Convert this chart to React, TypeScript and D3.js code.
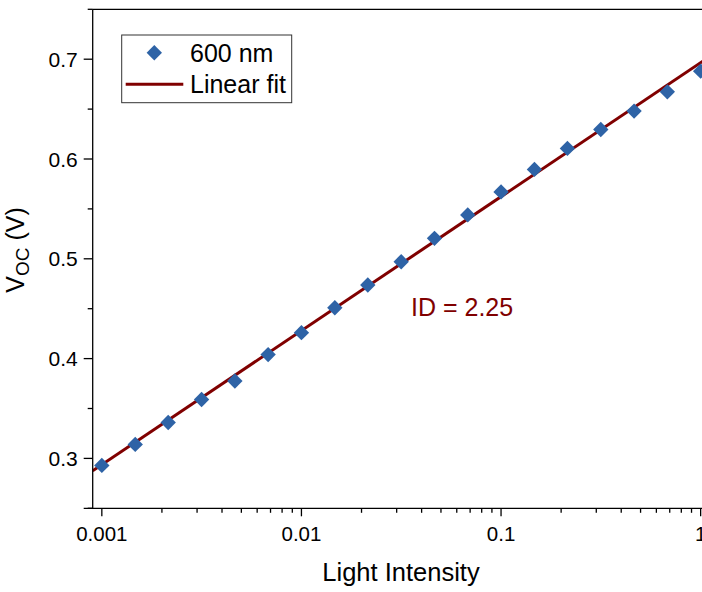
import * as d3 from "d3";
import React from "react";

// light intensity (suns) and measured Voc (V) at 600 nm
const intensity = [
  0.001, 0.00147, 0.00215, 0.00316, 0.00464, 0.00681, 0.01, 0.0147, 0.0215,
  0.0316, 0.0464, 0.0681, 0.1, 0.147, 0.215, 0.316, 0.464, 0.681, 1,
];
const voc = [
  0.293, 0.314, 0.336, 0.359, 0.3775, 0.404, 0.426, 0.451, 0.4737, 0.497,
  0.5205, 0.544, 0.567, 0.5896, 0.6106, 0.6296, 0.648, 0.6673, 0.688,
];

// linear fit (V vs log I) end points
const fitX = [0.0009, 1.11];
const fitY = [0.2876, 0.7026];

const xMajor = [0.001, 0.01, 0.1, 1];
const xMajorLabels = ["0.001", "0.01", "0.1", "1"];
const yMajor = [0.3, 0.4, 0.5, 0.6, 0.7];
const yMinor = [0.25, 0.35, 0.45, 0.55, 0.65, 0.75];

const legendLabels = ["600 nm", "Linear fit"];
const annotation = "ID = 2.25";

const App = () => {
  const width = 702;
  const height = 592;
  const margins = { top: 9.3, right: -7.7, bottom: 83.7, left: 92.7 };
  const innerWidth = width - margins.left - margins.right;
  const innerHeight = height - margins.top - margins.bottom;

  const blue = "#2e63a6";
  const wine = "#800000";
  const font = "Arial, 'Liberation Sans', sans-serif";

  const xScale = d3.scaleLog().domain([0.0009, 1.11]).range([0, innerWidth]);
  const yScale = d3.scaleLinear().domain([0.25, 0.75]).range([innerHeight, 0]);

  // minor x ticks 2..9 per decade
  const xMinor: number[] = [];
  [0.001, 0.01, 0.1].forEach((dec) => {
    for (let k = 2; k <= 9; k++) xMinor.push(dec * k);
  });

  const diamond = d3.symbol(d3.symbolSquare, 118)();
  const fitLine = d3
    .line<number>()
    .x((d) => xScale(d))
    .y((_, i) => yScale(fitY[i]));

  return (
    <svg
      width={width}
      height={height}
      style={{ position: "absolute", left: 0, top: 0, background: "#fff" }}
      fontFamily={font}
    >
      <defs>
        <clipPath id="plot">
          <rect x={0} y={0} width={innerWidth} height={innerHeight} />
        </clipPath>
      </defs>
      <g transform={`translate(${margins.left},${margins.top})`}>
        {/* fit line */}
        <path
          d={fitLine(fitX) || ""}
          stroke={wine}
          strokeWidth={3}
          fill="none"
          clipPath="url(#plot)"
        />
        {/* data */}
        {intensity.map((x, i) => (
          <path
            key={x}
            d={diamond || ""}
            transform={`translate(${xScale(x)},${yScale(voc[i])}) rotate(45)`}
            fill={blue}
          />
        ))}

        {/* frame */}
        <line x1={0} x2={innerWidth} y1={0} y2={0} stroke="#000" strokeWidth={1.3} />
        <line x1={0} x2={0} y1={0} y2={innerHeight} stroke="#000" strokeWidth={1.3} />
        <line x1={-9} x2={innerWidth} y1={innerHeight} y2={innerHeight} stroke="#000" strokeWidth={1.3} />

        {/* y ticks */}
        {yMajor.map((v) => (
          <g key={v} transform={`translate(0,${yScale(v)})`}>
            <line x1={-9} x2={0} stroke="#000" strokeWidth={1.3} />
            <text x={-15} dy="0.36em" textAnchor="end" fontSize={21}>
              {v.toFixed(1)}
            </text>
          </g>
        ))}
        {yMinor.map((v) => (
          <line
            key={v}
            x1={-5}
            x2={0}
            y1={yScale(v)}
            y2={yScale(v)}
            stroke="#000"
            strokeWidth={1.3}
          />
        ))}

        {/* x ticks */}
        {xMajor.map((v, i) => (
          <g key={v} transform={`translate(${xScale(v)},${innerHeight})`}>
            <line y1={0} y2={8} stroke="#000" strokeWidth={1.3} />
            <text y={32.5} textAnchor="middle" fontSize={20.5}>
              {xMajorLabels[i]}
            </text>
          </g>
        ))}
        {xMinor.map((v) => (
          <line
            key={v}
            x1={xScale(v)}
            x2={xScale(v)}
            y1={innerHeight}
            y2={innerHeight + 4.5}
            stroke="#000"
            strokeWidth={1.3}
          />
        ))}

        {/* axis titles */}
        <text
          x={401 - margins.left}
          y={innerHeight + 73}
          textAnchor="middle"
          fontSize={25.5}
        >
          Light Intensity
        </text>
        <text
          transform={`translate(${24 - margins.left},${250 - margins.top}) rotate(-90)`}
          textAnchor="middle"
          fontSize={25}
        >
          V<tspan fontSize={19} dy={5}>OC</tspan>
          <tspan dy={-5}> (V)</tspan>
        </text>

        {/* annotation */}
        <text x={xScale(0.0354)} y={yScale(0.4426)} fill={wine} fontSize={25}>
          {annotation}
        </text>

        {/* legend */}
        <g transform={`translate(${121.7 - margins.left},${35 - margins.top})`}>
          <rect width={170} height={67.7} fill="#fff" stroke="#333" strokeWidth={1} />
          <path d={diamond || ""} transform="translate(32.6,17.7) rotate(45)" fill={blue} />
          <text x={68.3} y={26.7} fontSize={25}>
            {legendLabels[0]}
          </text>
          <line x1={4} x2={61.6} y1={49.3} y2={49.3} stroke={wine} strokeWidth={3} />
          <text x={68.3} y={58.3} fontSize={25}>
            {legendLabels[1]}
          </text>
        </g>
      </g>
    </svg>
  );
};

export default App;
